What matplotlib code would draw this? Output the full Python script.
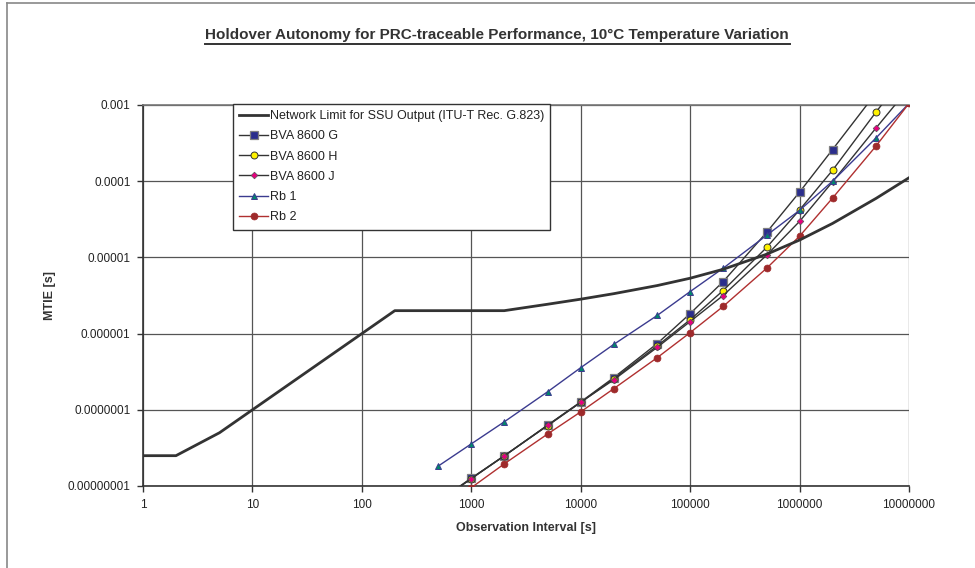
import numpy as np
import matplotlib.pyplot as plt
from matplotlib.lines import Line2D

plt.rcParams['font.family'] = ['Liberation Sans', 'DejaVu Sans']

# observation intervals [s]
tau_net = [1, 2, 5, 10, 20, 50, 100, 200, 500, 1000, 2000, 5000, 1e4, 2e4, 5e4,
           1e5, 2e5, 5e5, 1e6, 2e6, 5e6, 1e7]
mtie_net = [2.5e-8, 2.5e-8, 5e-8, 1e-7, 2e-7, 5e-7, 1e-6, 2e-6, 2e-6, 2e-6, 2e-6,
            2.43e-6, 2.83e-6, 3.34e-6, 4.27e-6, 5.33e-6, 6.98e-6, 1.1e-5, 1.69e-5,
            2.79e-5, 5.95e-5, 1.109e-4]

tau = [500, 1000, 2000, 5000, 1e4, 2e4, 5e4, 1e5, 2e5, 5e5, 1e6, 2e6, 5e6, 1e7]
bva_g = [6.3e-9, 1.27e-8, 2.48e-8, 6.3e-8, 1.27e-7, 2.64e-7, 7.4e-7, 1.83e-6,
         4.8e-6, 2.13e-5, 7.2e-5, 2.6e-4, 1.44e-3, 4.5e-3]
bva_h = [6.2e-9, 1.25e-8, 2.5e-8, 6.2e-8, 1.25e-7, 2.55e-7, 6.9e-7, 1.52e-6,
         3.67e-6, 1.35e-5, 4.2e-5, 1.39e-4, 8.1e-4, 2.9e-3]
bva_j = [6.2e-9, 1.25e-8, 2.48e-8, 6.3e-8, 1.26e-7, 2.47e-7, 6.6e-7, 1.44e-6,
         3.16e-6, 1.07e-5, 2.97e-5, 9.8e-5, 5.0e-4, 1.67e-3]
rb1 = [1.83e-8, 3.57e-8, 6.95e-8, 1.73e-7, 3.57e-7, 7.2e-7, 1.73e-6, 3.56e-6,
       7.2e-6, 1.95e-5, 4.15e-5, 1.0e-4, 3.7e-4, 1.05e-3]
rb2 = [4.7e-9, 9.5e-9, 1.95e-8, 4.83e-8, 9.4e-8, 1.89e-7, 4.83e-7, 1.03e-6,
       2.27e-6, 7.2e-6, 1.9e-5, 6.0e-5, 2.9e-4, 1.05e-3]

xticks = [1, 10, 100, 1000, 10000, 100000, 1000000, 10000000]
xlabels = ['1', '10', '100', '1000', '10000', '100000', '1000000', '10000000']
yticks = [1e-8, 1e-7, 1e-6, 1e-5, 1e-4, 1e-3]
ylabels = ['0.00000001', '0.0000001', '0.000001', '0.00001', '0.0001', '0.001']

fig = plt.figure(figsize=(9.75, 5.68), dpi=100)
ax = fig.add_axes([143 / 975, 82 / 568, 766 / 975, 381 / 568])

ax.plot(tau_net, mtie_net, color='#333333', lw=2.0, zorder=5,
        label='Network Limit for SSU Output (ITU-T Rec. G.823)')
ax.plot(tau, bva_g, color='#333333', lw=1.0, marker='s', ms=5.2,
        mfc='#2B2E8C', mec='#808080', mew=0.9, zorder=4, label='BVA 8600 G')
ax.plot(tau, bva_h, color='#333333', lw=1.0, marker='o', ms=5,
        mfc='#FFF200', mec='#333333', mew=0.7, zorder=4, label='BVA 8600 H')
ax.plot(tau, bva_j, color='#333333', lw=1.0, marker='D', ms=3.4,
        mfc='#E6007E', mec='#555555', mew=0.5, zorder=4, label='BVA 8600 J')
ax.plot(tau, rb1, color='#3B3B8F', lw=1.0, marker='^', ms=5,
        mfc='#00876A', mec='#3B3B8F', mew=0.7, zorder=4, label='Rb 1')
ax.plot(tau, rb2, color='#B03030', lw=1.0, marker='o', ms=5,
        mfc='#9E2A2B', mec='#9E2A2B', mew=0.5, zorder=4, label='Rb 2')

ax.set_xscale('log')
ax.set_yscale('log')
ax.set_xlim(1, 1e7)
ax.set_ylim(1e-8, 1e-3)
ax.set_xticks(xticks)
ax.set_xticklabels(xlabels)
ax.set_yticks(yticks)
ax.set_yticklabels(ylabels)
ax.minorticks_off()
ax.tick_params(axis='both', labelsize=8.5, color='#333333', length=4,
               width=1, direction='out', pad=5, labelcolor='#222222')
ax.grid(True, which='major', color='#555555', lw=0.9)
ax.set_axisbelow(True)
for side in ['left', 'bottom', 'top']:
    ax.spines[side].set_color('#333333')
    ax.spines[side].set_linewidth(1.2)
ax.spines['top'].set_color('#777777')
ax.spines['right'].set_visible(False)

ax.set_xlabel('Observation Interval [s]', fontsize=9, fontweight='bold',
              color='#333333', labelpad=8)
ax.set_ylabel('MTIE [s]', fontsize=9, fontweight='bold', color='#333333')
ax.yaxis.set_label_coords(-0.113, 0.5)

fig.text(497 / 975, 1 - 35 / 568,
         'Holdover Autonomy for PRC-traceable Performance, 10°C Temperature Variation',
         ha='center', va='center', fontsize=11, fontweight='bold', color='#333333')
fig.add_artist(Line2D([205 / 975, 790 / 975], [1 - 44 / 568, 1 - 44 / 568],
                      color='#333333', lw=1.4))

# chart frame
fig.add_artist(Line2D([7 / 975, 7 / 975], [0, 1 - 3 / 568], color='#888888', lw=1.2))
fig.add_artist(Line2D([7 / 975, 1], [1 - 3 / 568, 1 - 3 / 568], color='#888888', lw=1.2))

leg = ax.legend(loc='upper left', bbox_to_anchor=(90 / 766, 1.003), fontsize=9,
                frameon=True, fancybox=False, edgecolor='#333333', framealpha=1,
                borderpad=0.5, labelspacing=0.66, handlelength=2.3,
                handletextpad=0.15, borderaxespad=0)
leg.get_frame().set_linewidth(1.0)
leg.set_zorder(10)
for t in leg.get_texts():
    t.set_color('#222222')

fig.savefig('out.png', dpi=100)
